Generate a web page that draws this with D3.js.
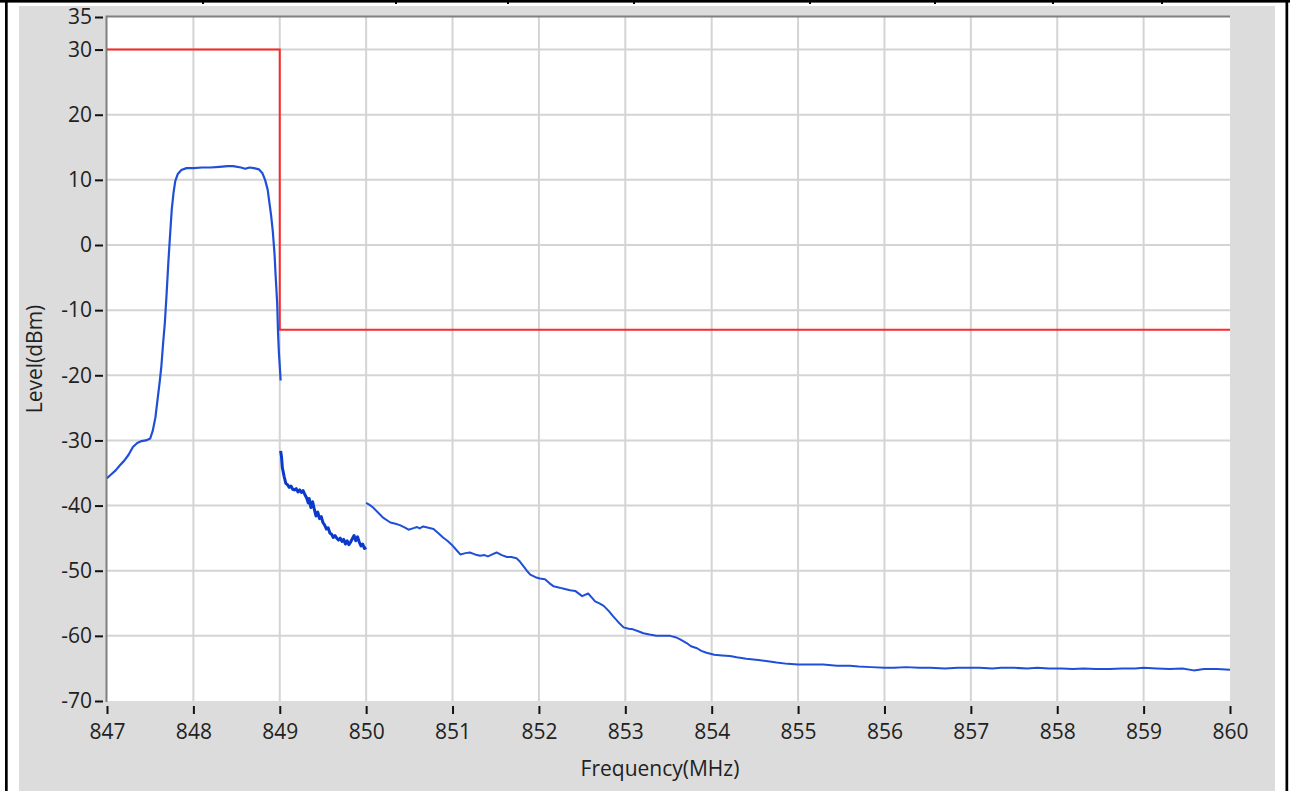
<!DOCTYPE html>
<html><head><meta charset="utf-8">
<script src="https://cdn.jsdelivr.net/npm/d3@7"></script>
<style>
html,body{margin:0;padding:0;background:#fff;}
svg{display:block;}
text{font-family:"Open Sans","Noto Sans",sans-serif;fill:#222;}
</style></head>
<body>
<svg id="c" width="1290" height="791"></svg>
<script>
// ---- data ----
const xTicks = [847,848,849,850,851,852,853,854,855,856,857,858,859,860];
const yTicks = [35,30,20,10,0,-10,-20,-30,-40,-50,-60,-70];
const xTitle = "Frequency(MHz)";
const yTitle = "Level(dBm)";
const limitLine = [[847,30],[849,30],[849,-13],[860,-13]];
const carrierSeg = [[847.00,-35.8],[847.05,-35.2],[847.10,-34.6],[847.15,-33.8],[847.20,-33.1],[847.25,-32.2],[847.30,-31.0],[847.35,-30.4],[847.40,-30.1],[847.45,-30.0],[847.50,-29.7],[847.53,-28.5],[847.56,-26.5],[847.59,-23.2],[847.61,-21.0],[847.63,-18.5],[847.65,-15.0],[847.67,-11.9],[847.69,-7.5],[847.71,-2.7],[847.73,1.5],[847.75,5.5],[847.77,8.0],[847.79,9.8],[847.82,10.9],[847.86,11.5],[847.92,11.8],[848.0,11.8],[848.1,11.9],[848.2,11.9],[848.3,12.0],[848.4,12.1],[848.46,12.1],[848.55,11.9],[848.6,11.7],[848.65,11.9],[848.7,11.8],[848.76,11.6],[848.80,11.0],[848.83,10.0],[848.86,8.5],[848.88,6.5],[848.90,4.5],[848.92,2.0],[848.94,-1.5],[848.95,-4.2],[848.97,-8.9],[848.98,-13.5],[848.99,-16.5],[849.00,-18.6],[849.01,-20.8]];
const nearSeg = [[849.01,-31.6],[849.02,-32.5],[849.03,-34.2],[849.05,-35.5],[849.07,-36.6],[849.09,-36.8],[849.11,-37.2],[849.13,-37.0],[849.15,-37.5],[849.17,-37.6],[849.19,-37.4],[849.21,-37.9],[849.23,-37.6],[849.25,-38.0],[849.27,-37.7],[849.29,-38.3],[849.31,-38.8],[849.33,-39.6],[849.34,-38.9],[849.36,-40.3],[849.38,-39.4],[849.40,-40.6],[849.42,-41.6],[849.44,-41.0],[849.46,-42.0],[849.48,-41.7],[849.50,-42.6],[849.52,-43.0],[849.54,-43.6],[849.56,-43.4],[849.58,-44.2],[849.60,-44.4],[849.62,-44.9],[849.64,-44.6],[849.66,-45.0],[849.68,-45.3],[849.70,-45.0],[849.72,-45.5],[849.74,-45.2],[849.76,-45.9],[849.78,-45.4],[849.80,-46.0],[849.82,-45.6],[849.84,-45.1],[849.86,-44.6],[849.88,-45.4],[849.90,-44.8],[849.92,-45.6],[849.94,-46.2],[849.96,-45.9],[849.98,-46.6],[850.00,-46.4]];
const farSeg = [[850.00,-39.6],[850.04,-39.9],[850.08,-40.3],[850.14,-41.1],[850.20,-41.9],[850.28,-42.6],[850.34,-42.8],[850.39,-43.0],[850.45,-43.4],[850.49,-43.7],[850.54,-43.5],[850.59,-43.3],[850.62,-43.5],[850.66,-43.2],[850.72,-43.4],[850.78,-43.6],[850.84,-44.3],[850.89,-44.9],[850.94,-45.4],[850.99,-46.0],[851.05,-46.9],[851.09,-47.5],[851.15,-47.3],[851.20,-47.2],[851.26,-47.5],[851.32,-47.7],[851.37,-47.6],[851.41,-47.8],[851.46,-47.5],[851.51,-47.2],[851.57,-47.6],[851.63,-47.9],[851.68,-47.9],[851.74,-48.1],[851.78,-48.6],[851.82,-49.3],[851.86,-50.0],[851.90,-50.6],[851.96,-51.0],[852.01,-51.2],[852.07,-51.3],[852.12,-51.9],[852.17,-52.4],[852.24,-52.6],[852.30,-52.8],[852.36,-53.0],[852.42,-53.1],[852.50,-53.9],[852.57,-53.5],[852.61,-54.1],[852.65,-54.7],[852.70,-55.0],[852.75,-55.4],[852.81,-56.2],[852.86,-57.0],[852.92,-57.9],[852.98,-58.7],[853.04,-58.9],[853.09,-59.0],[853.15,-59.3],[853.21,-59.6],[853.28,-59.8],[853.36,-60.0],[853.44,-60.0],[853.52,-60.0],[853.58,-60.2],[853.63,-60.5],[853.67,-60.8],[853.71,-61.1],[853.76,-61.6],[853.83,-61.9],[853.88,-62.3],[853.94,-62.6],[854.03,-62.9],[854.12,-63.0],[854.21,-63.1],[854.29,-63.3],[854.40,-63.5],[854.54,-63.7],[854.65,-63.9],[854.75,-64.1],[854.88,-64.3],[855.00,-64.4],[855.15,-64.4],[855.29,-64.4],[855.45,-64.6],[855.60,-64.6],[855.70,-64.7],[855.85,-64.8],[856.0,-64.9],[856.11,-64.9],[856.25,-64.8],[856.4,-64.9],[856.53,-64.9],[856.7,-65.0],[856.85,-64.9],[856.94,-64.9],[857.1,-64.9],[857.25,-65.0],[857.35,-64.9],[857.5,-64.9],[857.65,-65.0],[857.77,-64.9],[857.9,-65.0],[858.05,-65.0],[858.18,-65.1],[858.3,-65.0],[858.45,-65.1],[858.60,-65.1],[858.75,-65.0],[858.9,-65.0],[859.0,-64.9],[859.15,-65.0],[859.3,-65.1],[859.45,-65.0],[859.58,-65.3],[859.7,-65.1],[859.85,-65.1],[860.0,-65.2]];
const tableDividers = [203,396,508,634,810,935,1053,1162];

// ---- drawing ----
const svg = d3.select("#c");
const W = 1290, H = 791;
const L = 107, R = 1230, T = 17, B = 701;

// outer frame
svg.append("rect").attr("x",0).attr("y",0).attr("width",W).attr("height",H).attr("fill","#fff");
svg.append("rect").attr("x",19).attr("y",6).attr("width",1256).attr("height",H-6).attr("fill","#dcdcdc");
svg.append("rect").attr("x",0).attr("y",0).attr("width",W).attr("height",2.6).attr("fill","#000");
svg.selectAll("rect.div").data(tableDividers).enter().append("rect")
  .attr("x",d=>d-1).attr("y",0).attr("width",2).attr("height",4).attr("fill","#000");
svg.append("rect").attr("x",5).attr("y",0).attr("width",2.7).attr("height",H).attr("fill","#000");
svg.append("rect").attr("x",1285.5).attr("y",0).attr("width",2.7).attr("height",H).attr("fill","#000");

const x = d3.scaleLinear().domain([847,860]).range([L,R]);
const y = d3.scaleLinear().domain([-70,35]).range([B,T]);

// plot area
svg.append("rect").attr("x",L).attr("y",T).attr("width",R-L).attr("height",B-T).attr("fill","#fff");

const g = svg.append("g");
// grid
g.selectAll("line.vg").data(xTicks.slice(1,-1)).enter().append("line")
  .attr("x1",d=>x(d)).attr("x2",d=>x(d)).attr("y1",T).attr("y2",B)
  .attr("stroke","#d4d4d4").attr("stroke-width",2);
g.selectAll("line.hg").data(yTicks.filter(v=>v<35 && v>-70)).enter().append("line")
  .attr("x1",L).attr("x2",R).attr("y1",d=>y(d)).attr("y2",d=>y(d))
  .attr("stroke","#d4d4d4").attr("stroke-width",2);

// plot borders
svg.append("line").attr("x1",L).attr("x2",R).attr("y1",T-0.5).attr("y2",T-0.5).attr("stroke","#808080").attr("stroke-width",2);
svg.append("line").attr("x1",L-0.5).attr("x2",L-0.5).attr("y1",T-1.5).attr("y2",B+1).attr("stroke","#808080").attr("stroke-width",2);

// axes
const fmt = d => String(d);
const yAxis = d3.axisLeft(y).tickValues(yTicks).tickSize(8).tickPadding(3).tickFormat(fmt);
const ya = svg.append("g").attr("transform",`translate(${L-4},0)`).call(yAxis);
ya.select(".domain").remove();
ya.selectAll(".tick line").attr("stroke","#111").attr("stroke-width",2);
ya.selectAll(".tick text").attr("font-size",21).attr("fill","#1c1c1c").attr("font-family","'Open Sans',sans-serif");

const xAxis = d3.axisBottom(x).tickValues(xTicks).tickSize(8).tickPadding(10).tickFormat(fmt);
const xa = svg.append("g").attr("transform",`translate(0,${B+5})`).call(xAxis);
xa.select(".domain").remove();
xa.selectAll(".tick line").attr("stroke","#111").attr("stroke-width",2);
xa.selectAll(".tick text").attr("font-size",21).attr("fill","#1c1c1c").attr("font-family","'Open Sans',sans-serif");

// titles
svg.append("text").attr("x",660).attr("y",776).attr("text-anchor","middle")
  .attr("font-size",21).text(xTitle);
svg.append("text").attr("transform","translate(42,359) rotate(-90)").attr("text-anchor","middle")
  .attr("font-size",21).text(yTitle);

// lines
const line = d3.line().x(d=>x(d[0])).y(d=>y(d[1]));
svg.append("clipPath").attr("id","pc").append("rect").attr("x",L).attr("y",T-2).attr("width",R-L+1).attr("height",B-T+2);
const lg = svg.append("g").attr("clip-path","url(#pc)");
lg.append("path").datum(limitLine).attr("d",line).attr("fill","none").attr("stroke","#ff2828").attr("stroke-width",2);
lg.append("path").datum(carrierSeg).attr("d",line).attr("fill","none").attr("stroke","#1f4fd6").attr("stroke-width",2.2).attr("stroke-linejoin","round");
lg.append("path").datum(nearSeg).attr("d",line).attr("fill","none").attr("stroke","#0a3acb").attr("stroke-width",3).attr("stroke-linejoin","round");
lg.append("path").datum(farSeg).attr("d",line).attr("fill","none").attr("stroke","#1f4fd6").attr("stroke-width",2).attr("stroke-linejoin","round");
</script>
</body></html>
